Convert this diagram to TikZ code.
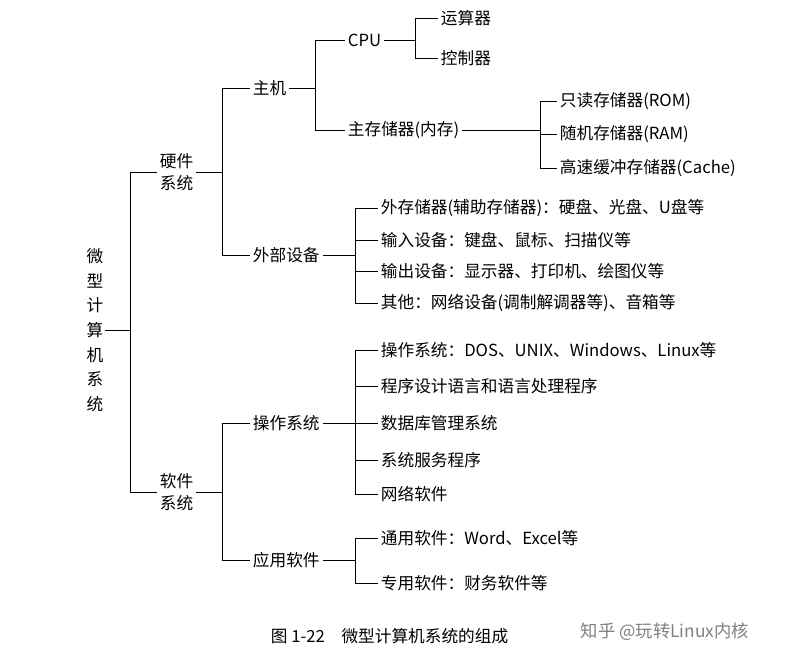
\documentclass[tikz,border=0pt]{standalone}
\usepackage{fontspec}
\setmainfont{Noto Sans CJK SC}
\begin{document}
\begin{tikzpicture}[x=0.75pt,y=-0.75pt,
  t/.style={inner sep=2pt,font=\fontsize{12.5}{14}\selectfont,anchor=west},
  ln/.style={draw=black,line width=0.6pt}]
\useasboundingbox[fill=white] (0,0) rectangle (792,662);
\node[inner sep=1pt,align=center,font=\fontsize{12.5}{18.5}\selectfont] (root) at (95,330) {微\\型\\计\\算\\机\\系\\统};
\node[t,align=center,font=\fontsize{12.5}{17}\selectfont] (hw) at (157,172) {硬件\\系统};
\node[t,align=center,font=\fontsize{12.5}{17}\selectfont] (sw) at (157,492) {软件\\系统};
\node[t] (zj) at (250,88) {主机};
\node[t] (wb) at (250,255) {外部设备};
\node[t] (cpu) at (345,40) {CPU};
\node[t] (zc) at (345,130) {主存储器(内存)};
\node[t] (ys) at (438,18) {运算器};
\node[t] (kz) at (438,58) {控制器};
\node[t] (rom) at (557,101) {只读存储器(ROM)};
\node[t] (ram) at (557,134) {随机存储器(RAM)};
\node[t] (cache) at (557,168) {高速缓冲存储器(Cache)};
\node[t] (w1) at (378,208) {外存储器(辅助存储器)：硬盘、光盘、U盘等};
\node[t] (w2) at (378,240) {输入设备：键盘、鼠标、扫描仪等};
\node[t] (w3) at (378,271) {输出设备：显示器、打印机、绘图仪等};
\node[t] (w4) at (378,303) {其他：网络设备(调制解调器等)、音箱等};
\node[t] (os) at (250,423) {操作系统};
\node[t] (app) at (250,560) {应用软件};
\node[t] (o1) at (378,350) {操作系统：DOS、UNIX、Windows、Linux等};
\node[t] (o2) at (378,386) {程序设计语言和语言处理程序};
\node[t] (o3) at (378,423) {数据库管理系统};
\node[t] (o4) at (378,460) {系统服务程序};
\node[t] (o5) at (378,494) {网络软件};
\node[t] (a1) at (378,538) {通用软件：Word、Excel等};
\node[t] (a2) at (378,583) {专用软件：财务软件等};
\node[t] (cap) at (268,636) {图 1-22\quad 微型计算机系统的组成};
\node[t,text=gray,font=\fontsize{13}{15}\selectfont] (wm) at (578,632) {知乎 @玩转Linux内核};
% brackets
\coordinate (b0) at (130,330);
\draw[ln] (root.east) -- (b0) |- (hw.west); \draw[ln] (b0) |- (sw.west);
\coordinate (b1) at (222,172);
\draw[ln] (hw.east) -- (b1) |- (zj.west); \draw[ln] (b1) |- (wb.west);
\coordinate (b2) at (315,88);
\draw[ln] (zj.east) -- (b2) |- (cpu.west); \draw[ln] (b2) |- (zc.west);
\coordinate (b3) at (415,40);
\draw[ln] (cpu.east) -- (b3) |- (ys.west); \draw[ln] (b3) |- (kz.west);
\coordinate (b4) at (540,130);
\draw[ln] (zc.east) -- (b4) |- (rom.west); \draw[ln] (b4) |- (ram.west); \draw[ln] (b4) |- (cache.west);
\coordinate (b5) at (355,255);
\draw[ln] (wb.east) -- (b5) |- (w1.west); \draw[ln] (b5) |- (w2.west); \draw[ln] (b5) |- (w3.west); \draw[ln] (b5) |- (w4.west);
\coordinate (b6) at (222,492);
\draw[ln] (sw.east) -- (b6) |- (os.west); \draw[ln] (b6) |- (app.west);
\coordinate (b7) at (355,423);
\draw[ln] (os.east) -- (b7) |- (o1.west); \draw[ln] (b7) |- (o2.west); \draw[ln] (b7) |- (o3.west); \draw[ln] (b7) |- (o4.west); \draw[ln] (b7) |- (o5.west);
\coordinate (b8) at (355,560);
\draw[ln] (app.east) -- (b8) |- (a1.west); \draw[ln] (b8) |- (a2.west);
\end{tikzpicture}
\end{document}
